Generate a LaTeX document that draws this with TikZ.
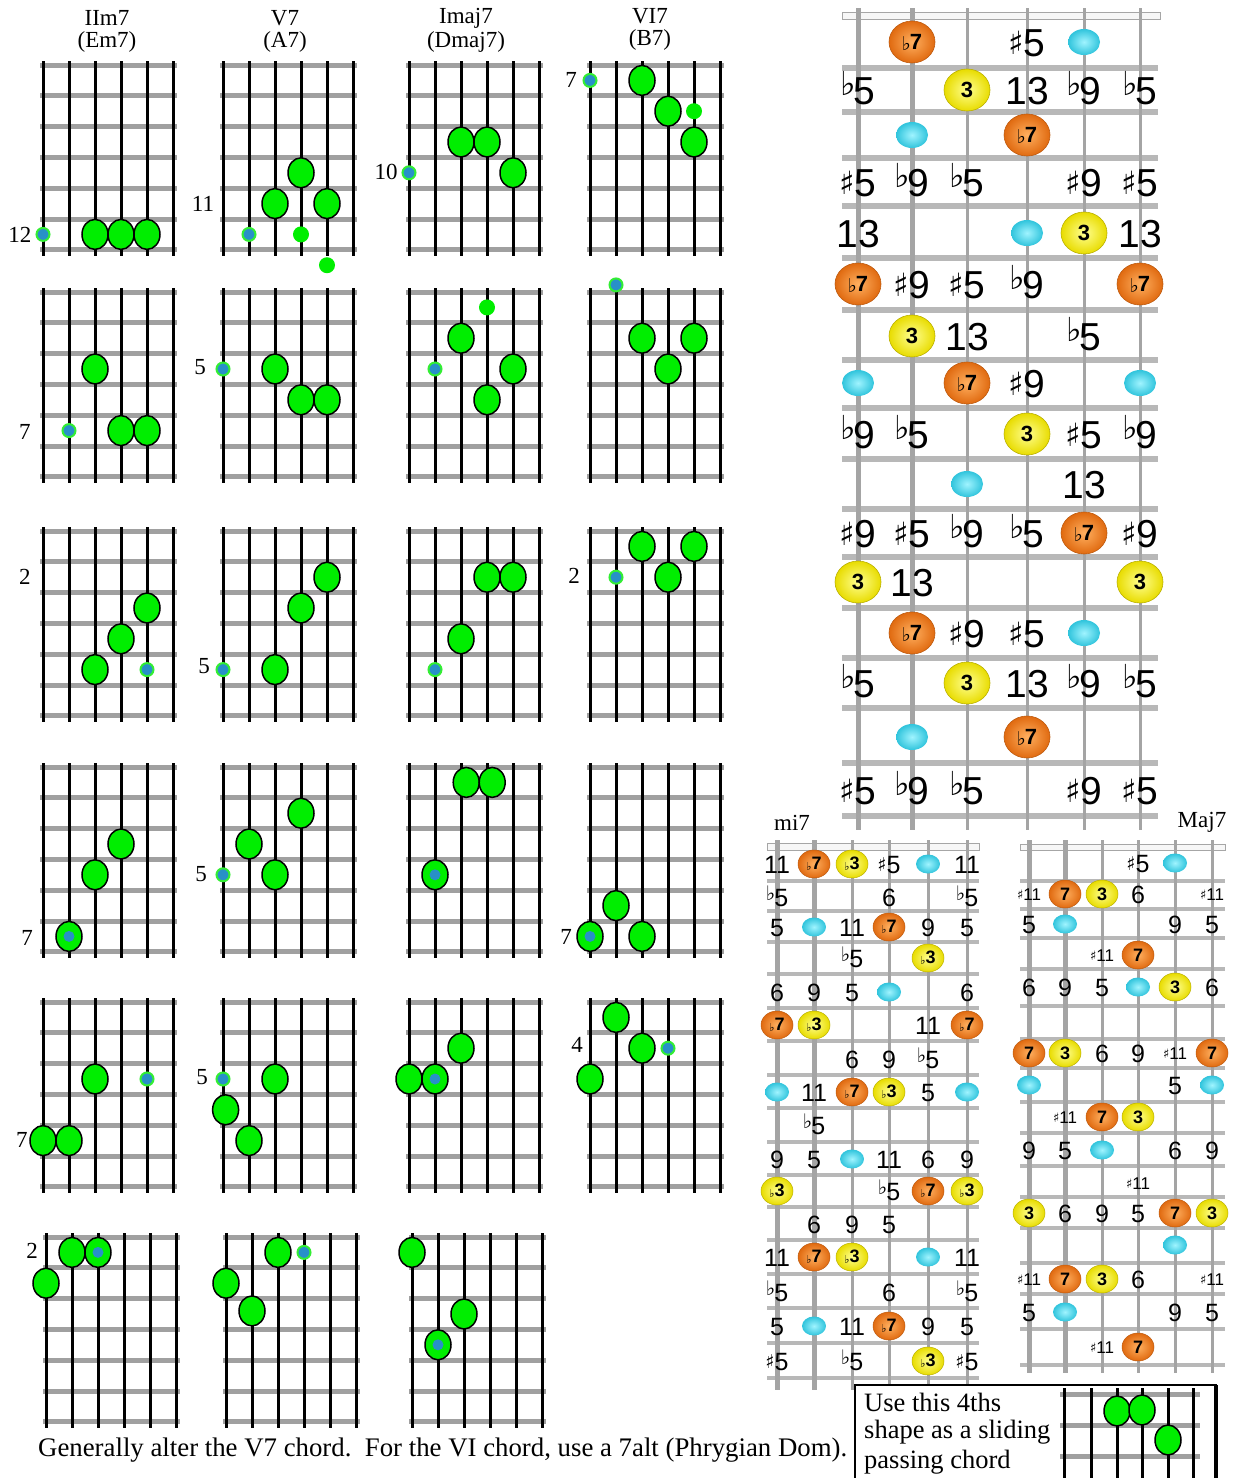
\documentclass[tikz,border=0pt]{standalone}
\usepackage{fontspec}
\setmainfont{Liberation Serif}
\newfontfamily\sansf{Liberation Sans}
\newfontfamily\dvs{DejaVu Sans}
\usetikzlibrary{shapes.geometric}
\definecolor{fretgray}{HTML}{A0A0A0}
\definecolor{dgreen}{HTML}{00EE00}
\definecolor{dblue}{HTML}{2890C8}
\definecolor{ringgreen}{HTML}{33EE33}
\definecolor{bfret}{HTML}{B8B8B8}
\definecolor{bstr}{HTML}{A4A4A4}
\definecolor{orI}{HTML}{FFB060}
\definecolor{orO}{HTML}{E06A10}
\definecolor{yeI}{HTML}{FFFF90}
\definecolor{yeO}{HTML}{E8DC00}
\definecolor{cyI}{HTML}{A0F4FF}
\definecolor{cyO}{HTML}{30C4DC}
\newcounter{nc}
\newcommand{\Nd}[3]{\stepcounter{nc}\node[#1] (n\arabic{nc}) at (#2) {#3};}
\newcommand{\cGrid}[3]{\begin{scope}[shift={(#1,#2)}]
\foreach \k in {0,...,6} \draw[cfret] (-3,\k*30.8) -- (134,\k*30.8);
\foreach \s in {0,...,5} \draw[cstr] (\s*26,-4) -- (\s*26,191);
#3
\end{scope}}
\newcommand{\cBig}[2]{\Nd{bigdot}{{(#1-1)*26},{(#2-0.5)*30.8}}{}}
\newcommand{\cBlue}[2]{\Nd{bluedot}{{(#1-1)*26},{(#2-0.5)*30.8}}{}}
\newcommand{\cSmall}[2]{\Nd{smallg}{{(#1-1)*26},{(#2-0.5)*30.8}}{}}
\newcommand{\cBoth}[2]{\cBig{#1}{#2}\Nd{blueinner}{{(#1-1)*26},{(#2-0.5)*30.8}}{}}
\newcommand{\bN}[4]{\pgfmathsetmacro\zxa{{0,858,912,967,1027,1084,1140}[#1]}\pgfmathsetmacro\zya{{0,42,90,135,182,233,284,336,383,434,484,533,582,633,683,737,790}[#2]}\Nd{#3}{\zxa,\zya}{#4}}
\newcommand{\mN}[4]{\pgfmathsetmacro\zxa{{0,777,814,852,889,928,967}[#1]}\pgfmathsetmacro\zya{{0,864,897,927,958,992,1025,1059,1092,1125,1159,1191,1224,1257,1292,1326,1361}[#2]}\Nd{#3}{\zxa,\zya}{#4}}
\newcommand{\jN}[4]{\pgfmathsetmacro\zxa{{0,1029,1065,1102,1138,1175,1212}[#1]}\pgfmathsetmacro\zya{{0,863,894,924,955,987,1022,1053,1085,1117,1150,1183,1213,1245,1279,1312,1347}[#2]}\Nd{#3}{\zxa,\zya}{#4}}
% accidentals
\newcommand{\bF}{\raisebox{9pt}{\dvs\fontsize{33}{33}\selectfont ♭}\kern-2pt}
\newcommand{\bS}{\raisebox{2pt}{\dvs\fontsize{32}{32}\selectfont ♯}\kern0pt}
\newcommand{\oF}{\raisebox{-1pt}{\dvs\fontsize{19}{19}\selectfont ♭}\kern-1pt}
\newcommand{\mF}{\raisebox{6pt}{\dvs\fontsize{20}{20}\selectfont ♭}\kern-1pt}
\newcommand{\mS}{\raisebox{2pt}{\dvs\fontsize{19}{19}\selectfont ♯}}
\newcommand{\sF}{\raisebox{-1pt}{\dvs\fontsize{11}{11}\selectfont ♭}}
\newcommand{\jS}{\raisebox{1pt}{\dvs\fontsize{13}{13}\selectfont ♯}}
\tikzset{
 cfret/.style={draw=fretgray, line width=5pt},
 cstr/.style={draw=black, line width=3pt},
 bigdot/.style={ellipse, draw=black, line width=1.5pt, fill=dgreen, minimum width=26pt, minimum height=30pt, inner sep=0pt},
 bluedot/.style={circle, draw=ringgreen, line width=2pt, fill=dblue, minimum size=13pt, inner sep=0pt},
 smallg/.style={circle, fill=dgreen, minimum size=16pt, inner sep=0pt},
 blueinner/.style={circle, fill=dblue, minimum size=11pt, inner sep=0pt},
 lab/.style={font=\fontsize{23}{23}\selectfont, inner sep=0pt},
 blab/.style={font=\sansf\fontsize{39}{39}\selectfont, inner sep=0pt, anchor=base, yshift=-14pt},
 bo/.style={ellipse, inner color=orI, outer color=orO, draw=orO!85!black, line width=0.6pt, minimum width=46pt, minimum height=42pt, inner sep=0pt, font=\sansf\bfseries\fontsize{22}{22}\selectfont},
 by/.style={ellipse, inner color=yeI, outer color=yeO, draw=yeO!80!black, line width=0.6pt, minimum width=46pt, minimum height=42pt, inner sep=0pt, font=\sansf\bfseries\fontsize{22}{22}\selectfont},
 bc/.style={ellipse, inner color=cyI, outer color=cyO, minimum width=32pt, minimum height=26pt, inner sep=0pt},
 mlab/.style={font=\sansf\fontsize{25}{25}\selectfont, inner sep=0pt, anchor=base, yshift=-9pt},
 jsm/.style={font=\sansf\fontsize{17}{17}\selectfont, inner sep=0pt, anchor=base, yshift=-6pt},
 mo/.style={ellipse, inner color=orI, outer color=orO, draw=orO!85!black, line width=0.5pt, minimum width=32pt, minimum height=28pt, inner sep=0pt, font=\sansf\bfseries\fontsize{18}{18}\selectfont},
 my/.style={ellipse, inner color=yeI, outer color=yeO, draw=yeO!80!black, line width=0.5pt, minimum width=32pt, minimum height=28pt, inner sep=0pt, font=\sansf\bfseries\fontsize{18}{18}\selectfont},
 mc/.style={ellipse, inner color=cyI, outer color=cyO, minimum width=24pt, minimum height=19pt, inner sep=0pt},
 bfretl/.style={draw=bfret, line width=6pt},
 mfretl/.style={draw=bfret, line width=4pt},
}
\begin{document}
\begin{tikzpicture}[x=1pt,y=-1pt]
\useasboundingbox (0,0) rectangle (1233,1478);
\fill[white] (0,0) rectangle (1233,1478);
% ---------- chord grids ----------
\Nd{lab}{107,18}{IIm7}\Nd{lab}{107,42}{(Em7)}
\Nd{lab}{285,18}{V7}\Nd{lab}{285,42}{(A7)}
\Nd{lab}{466,18}{Imaj7}\Nd{lab}{466,42}{(Dmaj7)}
\Nd{lab}{650,16}{VI7}\Nd{lab}{650,40}{(B7)}
\cGrid{43}{65}{\cBlue{1}{6}\cBig{3}{6}\cBig{4}{6}\cBig{5}{6}}
\cGrid{223}{65}{\cBig{4}{4}\cBig{3}{5}\cBig{5}{5}\cBlue{2}{6}\cSmall{4}{6}\cSmall{5}{7}}
\cGrid{409}{65}{\cBig{3}{3}\cBig{4}{3}\cBig{5}{4}\cBlue{1}{4}}
\cGrid{590}{65}{\cBlue{1}{1}\cBig{3}{1}\cBig{4}{2}\cSmall{5}{2}\cBig{5}{3}}
\cGrid{43}{292}{\cBig{3}{3}\cBlue{2}{5}\cBig{4}{5}\cBig{5}{5}}
\cGrid{223}{292}{\cBlue{1}{3}\cBig{3}{3}\cBig{4}{4}\cBig{5}{4}}
\cGrid{409}{292}{\cSmall{4}{1}\cBig{3}{2}\cBlue{2}{3}\cBig{5}{3}\cBig{4}{4}}
\cGrid{590}{292}{\cBlue{2}{0.27}\cBig{3}{2}\cBig{5}{2}\cBig{4}{3}}
\cGrid{43}{531}{\cBig{5}{3}\cBig{4}{4}\cBig{3}{5}\cBlue{5}{5}}
\cGrid{223}{531}{\cBig{5}{2}\cBig{4}{3}\cBig{3}{5}\cBlue{1}{5}}
\cGrid{409}{531}{\cBig{4}{2}\cBig{5}{2}\cBig{3}{4}\cBlue{2}{5}}
\cGrid{590}{531}{\cBig{3}{1}\cBig{5}{1}\cBig{4}{2}\cBlue{2}{2}}
\cGrid{43}{767}{\cBig{4}{3}\cBig{3}{4}\cBoth{2}{6}}
\cGrid{223}{767}{\cBig{4}{2}\cBig{2}{3}\cBig{3}{4}\cBlue{1}{4}}
\cGrid{409}{767}{\cBig{3.2}{1}\cBig{4.2}{1}\cBoth{2}{4}}
\cGrid{590}{767}{\cBig{2}{5}\cBoth{1}{6}\cBig{3}{6}}
\cGrid{43}{1002}{\cBig{3}{3}\cBlue{5}{3}\cBig{1}{5}\cBig{2}{5}}
\cGrid{223}{1002}{\cBlue{1}{3}\cBig{3}{3}\cBig{1.1}{4}\cBig{2}{5}}
\cGrid{409}{1002}{\cBig{3}{2}\cBig{1}{3}\cBoth{2}{3}}
\cGrid{590}{1002}{\cBig{2}{1}\cBig{3}{2}\cBlue{4}{2}\cBig{1}{3}}
\cGrid{46}{1237}{\cBig{2}{1}\cBoth{3}{1}\cBig{1}{2}}
\cGrid{226}{1237}{\cBig{3}{1}\cBlue{4}{1}\cBig{1}{2}\cBig{2}{2.9}}
\cGrid{412}{1237}{\cBig{1}{1}\cBig{3}{3}\cBoth{2}{4}}
% fret numbers
\Nd{lab}{20,235}{12}\Nd{lab}{203,204}{11}\Nd{lab}{386,172}{10}\Nd{lab}{571,80}{7}
\Nd{lab}{25,432}{7}\Nd{lab}{200,367}{5}
\Nd{lab}{25,577}{2}\Nd{lab}{204,666}{5}\Nd{lab}{574,576}{2}
\Nd{lab}{27,938}{7}\Nd{lab}{201,874}{5}\Nd{lab}{566,937}{7}
\Nd{lab}{22,1140}{7}\Nd{lab}{202,1077}{5}\Nd{lab}{577,1045}{4}
\Nd{lab}{32,1251}{2}
\Nd{lab, anchor=west, font=\fontsize{26.8}{27}\selectfont}{38,1450}{Generally alter the V7 chord.\ \ For the VI chord, use a 7alt (Phrygian Dom).}
% ---------- big fretboard ----------
\draw[draw=gray!70, fill=gray!6, line width=1pt] (842,12) rectangle (1160,19);
\foreach \y in {68,112,158,206,258,310,360,408,459,509,557,608,658,708,763,816} \draw[bfretl] (842,\y) -- (1158,\y);
\foreach \x/\w in {858/5,912/5,967/3,1027/3,1084/3,1140/3} \draw[draw=bstr, line width=\w pt] (\x,8) -- (\x,830);
\bN{2}{1}{bo}{\oF7}\bN{4}{1}{blab}{\bS5}\bN{5}{1}{bc}{}
\bN{1}{2}{blab}{\bF5}\bN{3}{2}{by}{3}\bN{4}{2}{blab}{13}\bN{5}{2}{blab}{\bF9}\bN{6}{2}{blab}{\bF5}
\bN{2}{3}{bc}{}\bN{4}{3}{bo}{\oF7}
\bN{1}{4}{blab}{\bS5}\bN{2}{4}{blab}{\bF9}\bN{3}{4}{blab}{\bF5}\bN{5}{4}{blab}{\bS9}\bN{6}{4}{blab}{\bS5}
\bN{1}{5}{blab}{13}\bN{4}{5}{bc}{}\bN{5}{5}{by}{3}\bN{6}{5}{blab}{13}
\bN{1}{6}{bo}{\oF7}\bN{2}{6}{blab}{\bS9}\bN{3}{6}{blab}{\bS5}\bN{4}{6}{blab}{\bF9}\bN{6}{6}{bo}{\oF7}
\bN{2}{7}{by}{3}\bN{3}{7}{blab}{13}\bN{5}{7}{blab}{\bF5}
\bN{1}{8}{bc}{}\bN{3}{8}{bo}{\oF7}\bN{4}{8}{blab}{\bS9}\bN{6}{8}{bc}{}
\bN{1}{9}{blab}{\bF9}\bN{2}{9}{blab}{\bF5}\bN{4}{9}{by}{3}\bN{5}{9}{blab}{\bS5}\bN{6}{9}{blab}{\bF9}
\bN{3}{10}{bc}{}\bN{5}{10}{blab}{13}
\bN{1}{11}{blab}{\bS9}\bN{2}{11}{blab}{\bS5}\bN{3}{11}{blab}{\bF9}\bN{4}{11}{blab}{\bF5}\bN{5}{11}{bo}{\oF7}\bN{6}{11}{blab}{\bS9}
\bN{1}{12}{by}{3}\bN{2}{12}{blab}{13}\bN{6}{12}{by}{3}
\bN{2}{13}{bo}{\oF7}\bN{3}{13}{blab}{\bS9}\bN{4}{13}{blab}{\bS5}\bN{5}{13}{bc}{}
\bN{1}{14}{blab}{\bF5}\bN{3}{14}{by}{3}\bN{4}{14}{blab}{13}\bN{5}{14}{blab}{\bF9}\bN{6}{14}{blab}{\bF5}
\bN{2}{15}{bc}{}\bN{4}{15}{bo}{\oF7}
\bN{1}{16}{blab}{\bS5}\bN{2}{16}{blab}{\bF9}\bN{3}{16}{blab}{\bF5}\bN{5}{16}{blab}{\bS9}\bN{6}{16}{blab}{\bS5}
% ---------- mi7 ----------
\Nd{lab}{792,823}{mi7}
\draw[draw=gray!70, fill=gray!6, line width=0.8pt] (767,843) rectangle (979,850);
\foreach \y in {881,911,942,974,1008,1041,1075,1108,1142,1175,1207,1240,1274,1308,1343,1378} \draw[mfretl] (767,\y) -- (979,\y);
\foreach \x/\w in {777/5,814/5,852/3,889/3,928/3,967/3} \draw[draw=bstr, line width=\w pt] (\x,840) -- (\x,1390);
\mN{1}{1}{mlab}{11}\mN{2}{1}{mo}{\sF7}\mN{3}{1}{my}{\sF3}\mN{4}{1}{mlab}{\mS5}\mN{5}{1}{mc}{}\mN{6}{1}{mlab}{11}
\mN{1}{2}{mlab}{\mF5}\mN{4}{2}{mlab}{6}\mN{6}{2}{mlab}{\mF5}
\mN{1}{3}{mlab}{5}\mN{2}{3}{mc}{}\mN{3}{3}{mlab}{11}\mN{4}{3}{mo}{\sF7}\mN{5}{3}{mlab}{9}\mN{6}{3}{mlab}{5}
\mN{3}{4}{mlab}{\mF5}\mN{5}{4}{my}{\sF3}
\mN{1}{5}{mlab}{6}\mN{2}{5}{mlab}{9}\mN{3}{5}{mlab}{5}\mN{4}{5}{mc}{}\mN{6}{5}{mlab}{6}
\mN{1}{6}{mo}{\sF7}\mN{2}{6}{my}{\sF3}\mN{5}{6}{mlab}{11}\mN{6}{6}{mo}{\sF7}
\mN{3}{7}{mlab}{6}\mN{4}{7}{mlab}{9}\mN{5}{7}{mlab}{\mF5}
\mN{1}{8}{mc}{}\mN{2}{8}{mlab}{11}\mN{3}{8}{mo}{\sF7}\mN{4}{8}{my}{\sF3}\mN{5}{8}{mlab}{5}\mN{6}{8}{mc}{}
\mN{2}{9}{mlab}{\mF5}
\mN{1}{10}{mlab}{9}\mN{2}{10}{mlab}{5}\mN{3}{10}{mc}{}\mN{4}{10}{mlab}{11}\mN{5}{10}{mlab}{6}\mN{6}{10}{mlab}{9}
\mN{1}{11}{my}{\sF3}\mN{4}{11}{mlab}{\mF5}\mN{5}{11}{mo}{\sF7}\mN{6}{11}{my}{\sF3}
\mN{2}{12}{mlab}{6}\mN{3}{12}{mlab}{9}\mN{4}{12}{mlab}{5}
\mN{1}{13}{mlab}{11}\mN{2}{13}{mo}{\sF7}\mN{3}{13}{my}{\sF3}\mN{5}{13}{mc}{}\mN{6}{13}{mlab}{11}
\mN{1}{14}{mlab}{\mF5}\mN{4}{14}{mlab}{6}\mN{6}{14}{mlab}{\mF5}
\mN{1}{15}{mlab}{5}\mN{2}{15}{mc}{}\mN{3}{15}{mlab}{11}\mN{4}{15}{mo}{\sF7}\mN{5}{15}{mlab}{9}\mN{6}{15}{mlab}{5}
\mN{1}{16}{mlab}{\mS5}\mN{3}{16}{mlab}{\mF5}\mN{5}{16}{my}{\sF3}\mN{6}{16}{mlab}{\mS5}
% ---------- Maj7 ----------
\Nd{lab}{1202,822}{Maj7}
\draw[draw=gray!70, fill=gray!6, line width=0.8pt] (1020,844) rectangle (1225,850);
\foreach \y in {881,909,938,969,1006,1039,1068,1102,1133,1166,1197,1228,1263,1294,1329,1365} \draw[mfretl] (1020,\y) -- (1225,\y);
\foreach \x/\w in {1029/5,1065/5,1102/3,1138/3,1175/3,1212/3} \draw[draw=bstr, line width=\w pt] (\x,840) -- (\x,1373);
\jN{4}{1}{mlab}{\mS5}\jN{5}{1}{mc}{}
\jN{1}{2}{jsm}{\jS11}\jN{2}{2}{mo}{7}\jN{3}{2}{my}{3}\jN{4}{2}{mlab}{6}\jN{6}{2}{jsm}{\jS11}
\jN{1}{3}{mlab}{5}\jN{2}{3}{mc}{}\jN{5}{3}{mlab}{9}\jN{6}{3}{mlab}{5}
\jN{3}{4}{jsm}{\jS11}\jN{4}{4}{mo}{7}
\jN{1}{5}{mlab}{6}\jN{2}{5}{mlab}{9}\jN{3}{5}{mlab}{5}\jN{4}{5}{mc}{}\jN{5}{5}{my}{3}\jN{6}{5}{mlab}{6}
\jN{1}{7}{mo}{7}\jN{2}{7}{my}{3}\jN{3}{7}{mlab}{6}\jN{4}{7}{mlab}{9}\jN{5}{7}{jsm}{\jS11}\jN{6}{7}{mo}{7}
\jN{1}{8}{mc}{}\jN{5}{8}{mlab}{5}\jN{6}{8}{mc}{}
\jN{2}{9}{jsm}{\jS11}\jN{3}{9}{mo}{7}\jN{4}{9}{my}{3}
\jN{1}{10}{mlab}{9}\jN{2}{10}{mlab}{5}\jN{3}{10}{mc}{}\jN{5}{10}{mlab}{6}\jN{6}{10}{mlab}{9}
\jN{4}{11}{jsm}{\jS11}
\jN{1}{12}{my}{3}\jN{2}{12}{mlab}{6}\jN{3}{12}{mlab}{9}\jN{4}{12}{mlab}{5}\jN{5}{12}{mo}{7}\jN{6}{12}{my}{3}
\jN{5}{13}{mc}{}
\jN{1}{14}{jsm}{\jS11}\jN{2}{14}{mo}{7}\jN{3}{14}{my}{3}\jN{4}{14}{mlab}{6}\jN{6}{14}{jsm}{\jS11}
\jN{1}{15}{mlab}{5}\jN{2}{15}{mc}{}\jN{5}{15}{mlab}{9}\jN{6}{15}{mlab}{5}
\jN{3}{16}{jsm}{\jS11}\jN{4}{16}{mo}{7}
% ---------- bottom box ----------
\fill[white] (855,1385) rectangle (1217,1478);
\draw[line width=2.5pt] (855,1478) -- (855,1385) -- (1217,1385);
\draw[line width=4pt] (1216,1385) -- (1216,1478);
\foreach \y in {1394,1425,1456} \draw[cfret] (1060,\y) -- (1200,\y);
\foreach \x in {1064,1091,1117,1142,1168,1193} \draw[cstr] (\x,1388) -- (\x,1478);
\Nd{bigdot}{1117,1411}{}\Nd{bigdot}{1142,1410}{}\Nd{bigdot}{1168,1440}{}
\Nd{lab, anchor=west, font=\fontsize{26.5}{27}\selectfont}{864,1402}{Use this 4ths}
\Nd{lab, anchor=west, font=\fontsize{26.5}{27}\selectfont}{864,1432}{shape as a sliding}
\Nd{lab, anchor=west, font=\fontsize{26.5}{27}\selectfont}{864,1462}{passing chord}
\end{tikzpicture}
\end{document}
